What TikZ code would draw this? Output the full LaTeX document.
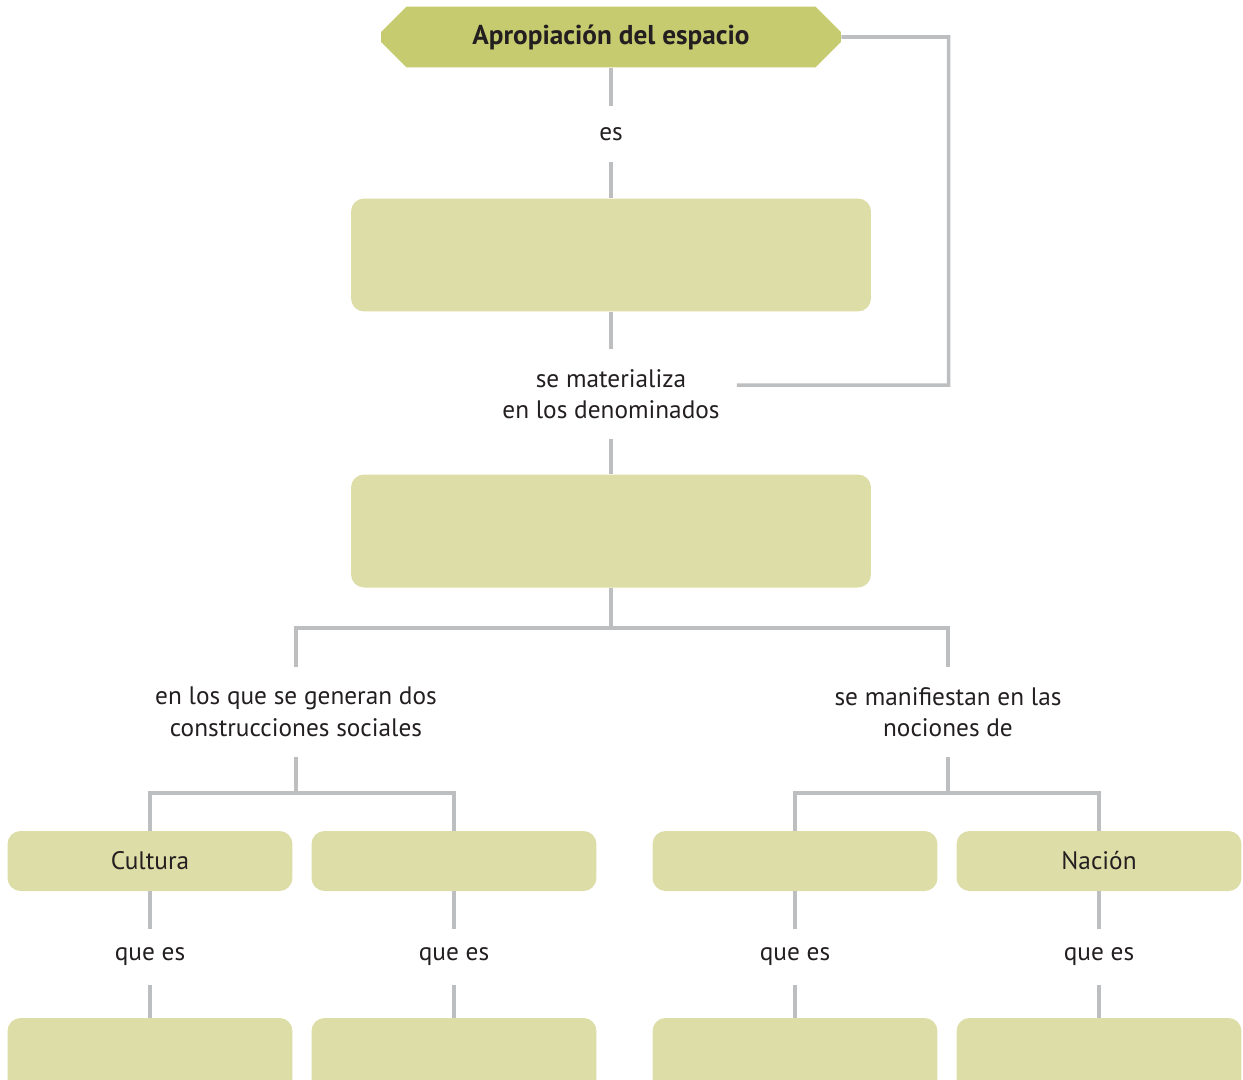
\documentclass[tikz,border=0pt]{standalone}
\usepackage{fontspec}
\setmainfont{PT Sans}
\usetikzlibrary{positioning,calc,shapes.misc}

\definecolor{titlefill}{HTML}{C6CB6F}
\definecolor{boxfill}{HTML}{DDDDA7}
\definecolor{linkgray}{HTML}{BDBEC0}
\definecolor{inkdark}{HTML}{231F20}

\begin{document}
\begin{tikzpicture}[
    x=0.02cm, y=-0.02cm,
    title/.style={
        chamfered rectangle,
        chamfered rectangle xsep=0.26cm,
        chamfered rectangle ysep=0.26cm,
        fill=titlefill,
        minimum width=9.2cm,
        minimum height=1.22cm,
        inner sep=0pt,
        text=inkdark,
        font=\fontsize{15.5}{18}\selectfont\bfseries
    },
    bigbox/.style={
        fill=boxfill,
        rounded corners=0.26cm,
        minimum width=10.4cm,
        minimum height=2.26cm,
        inner sep=0pt
    },
    smallbox/.style={
        fill=boxfill,
        rounded corners=0.26cm,
        minimum width=5.7cm,
        minimum height=1.2cm,
        inner sep=0pt,
        text=inkdark,
        font=\fontsize{14.4}{18}\selectfont
    },
    lowbox/.style={smallbox, minimum height=1.6cm},
    lbl/.style={
        text=inkdark,
        font=\fontsize{14.4}{18}\selectfont,
        align=center,
        inner xsep=0.34cm,
        inner ysep=0pt,
        minimum height=1.1cm
    },
    lbltwo/.style={lbl, minimum height=1.8cm},
    link/.style={draw=linkgray, line width=2pt}
]

% --- Frame ---
\useasboundingbox (0,0) rectangle (1243,1079);
\clip (0,0) rectangle (1243,1079);

% --- Column x-positions ---
\def\xMid{611}
\def\xLeft{296}
\def\xRight{948}
\def\xA{150}
\def\xB{454}
\def\xC{795}
\def\xD{1099}

% --- Upper chain ---
\node[title]  (apro) at (\xMid, 37)  {Apropiación del espacio};
\node[lbl]    (es)   at (\xMid, 134) {es};
\node[bigbox] (def)  at (\xMid, 255) {};
\node[lbltwo] (mat)  at (\xMid, 394) {se materializa\\en los denominados};
\node[bigbox] (den)  at (\xMid, 531) {};

\draw[link] (apro.south) -- (es.north);
\draw[link] (es.south) -- (def.north);
\draw[link] (def.south) -- (mat.north);
\draw[link] (mat.south) -- (den.north);

% feedback line on the right
\draw[link] (apro.east) -| (\xRight+0.5, 385) -- ([yshift=0.18cm]mat.east);

% --- First split ---
\node[lbltwo] (gen) at (\xLeft, 712)  {en los que se generan dos\\construcciones sociales};
\node[lbltwo] (man) at (\xRight, 712) {se manifiestan en las\\nociones de};

\coordinate (fork) at (\xMid, 628);
\draw[link] (den.south) -- (fork);
\draw[link] (gen.north) |- (fork) -| (man.north);

% --- Second row of boxes ---
\node[smallbox] (cul) at (\xA, 861) {Cultura};
\node[smallbox] (soc) at (\xB, 861) {};
\node[smallbox] (noc) at (\xC, 861) {};
\node[smallbox] (nac) at (\xD, 861) {Nación};

\coordinate (forkL) at (\xLeft, 793);
\coordinate (forkR) at (\xRight, 793);
\draw[link] (gen.south) -- (forkL);
\draw[link] (cul.north) |- (forkL) -| (soc.north);
\draw[link] (man.south) -- (forkR);
\draw[link] (noc.north) |- (forkR) -| (nac.north);

% --- que es ---
\foreach \n/\x in {a/\xA, b/\xB, c/\xC, d/\xD}
    \node[lbl] (que\n) at (\x, 957) {que es};

\node[lowbox] (defA) at (\xA, 1058) {};
\node[lowbox] (defB) at (\xB, 1058) {};
\node[lowbox] (defC) at (\xC, 1058) {};
\node[lowbox] (defD) at (\xD, 1058) {};

\draw[link] (cul.south) -- (quea.north);
\draw[link] (quea.south) -- (defA.north);
\draw[link] (soc.south) -- (queb.north);
\draw[link] (queb.south) -- (defB.north);
\draw[link] (noc.south) -- (quec.north);
\draw[link] (quec.south) -- (defC.north);
\draw[link] (nac.south) -- (qued.north);
\draw[link] (qued.south) -- (defD.north);

\end{tikzpicture}
\end{document}
